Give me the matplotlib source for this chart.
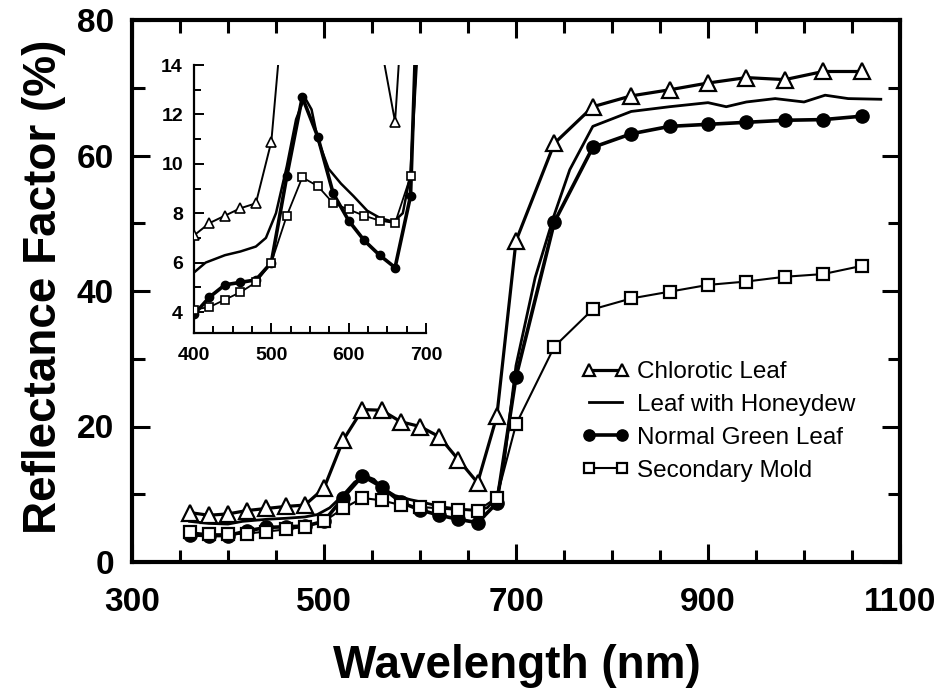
import numpy as np
import matplotlib
matplotlib.use('Agg')
import matplotlib.pyplot as plt
from matplotlib.ticker import MultipleLocator

plt.rcParams['font.family'] = ['Liberation Sans', 'DejaVu Sans']

# wavelengths of the marked series (nm)
wl = [360, 380, 400, 420, 440, 460, 480, 500, 520, 540, 560, 580, 600, 620, 640, 660, 680,
      700, 740, 780, 820, 860, 900, 940, 980, 1020, 1060]

chlorotic = [7.3, 6.9, 7.1, 7.6, 7.9, 8.2, 8.4, 10.9, 18.0, 22.5, 22.4, 20.7, 20.0, 18.5, 15.1, 11.7, 21.5,
             47.4, 61.8, 67.2, 68.8, 69.7, 70.7, 71.5, 71.2, 72.4, 72.4]
normal_green = [4.0, 3.9, 3.9, 4.6, 5.1, 5.2, 5.3, 6.0, 9.5, 12.7, 11.1, 8.8, 7.7, 6.9, 6.3, 5.8, 8.7,
                27.3, 50.2, 61.2, 63.2, 64.3, 64.6, 64.9, 65.2, 65.3, 65.8]
mold = [4.4, 4.1, 4.1, 4.2, 4.5, 4.8, 5.2, 6.0, 7.9, 9.45, 9.1, 8.4, 8.15, 7.9, 7.7, 7.6, 9.5,
        20.3, 31.8, 37.3, 38.9, 39.9, 40.9, 41.4, 42.1, 42.5, 43.7]

# leaf with honeydew: plain line, no markers
hd_wl = [360, 380, 400, 415, 440, 460, 480, 493, 506, 520, 532, 543, 552, 560, 574, 590, 606, 624, 641,
         658, 670, 680, 687, 700, 720, 740, 756, 780, 820, 860, 900, 919, 940, 970, 1000, 1022, 1046, 1080]
honeydew = [6.0, 5.7, 5.6, 6.0, 6.3, 6.45, 6.65, 7.0, 8.0, 9.9, 11.8, 12.7, 12.2, 11.0, 9.8, 9.2, 8.7, 8.1, 7.8,
            7.65, 8.0, 9.6, 14.0, 29.0, 42.0, 51.3, 57.9, 64.3, 66.5, 67.2, 67.8, 67.2, 67.9, 68.4, 67.9, 68.9, 68.4, 68.3]

fig = plt.figure(figsize=(9.4, 6.9), dpi=100)
ax = fig.add_axes([132 / 940, 1 - 562 / 690, 768 / 940, 542 / 690])

ax.plot(wl, normal_green, color='black', lw=2.6, marker='o', ms=9.5, mfc='black', mec='black',
        label='Normal Green Leaf', zorder=3)
ax.plot(hd_wl, honeydew, color='black', lw=2.0, label='Leaf with Honeydew', zorder=3)
ax.plot(wl, mold, color='black', lw=1.5, marker='s', ms=9, mfc='white', mec='black', mew=1.6,
        label='Secondary Mold', zorder=4)
ax.plot(wl, chlorotic, color='black', lw=2.3, marker='^', ms=11, mfc='white', mec='black', mew=1.6,
        label='Chlorotic Leaf', zorder=5)

ax.set_xlim(300, 1100)
ax.set_ylim(0, 80)
ax.set_xticks([300, 500, 700, 900, 1100])
ax.set_yticks([0, 20, 40, 60, 80])
ax.xaxis.set_minor_locator(MultipleLocator(50))
ax.yaxis.set_minor_locator(MultipleLocator(10))
ax.tick_params(which='both', direction='in', top=True, right=True, width=2.2, labelsize=24)
ax.tick_params(which='major', length=13)
ax.tick_params(which='minor', length=9)
ax.tick_params(axis='x', which='major', pad=18)
ax.tick_params(axis='y', which='major', pad=13)
for lab in ax.get_xticklabels() + ax.get_yticklabels():
    lab.set_fontweight('bold')
for sp in ax.spines.values():
    sp.set_linewidth(3)

ax.set_xlabel('Wavelength (nm)', fontsize=33, fontweight='bold')
ax.set_ylabel('Reflectance Factor (%)', fontsize=33, fontweight='bold')
ax.xaxis.set_label_coords(0.501, -0.152)
ax.yaxis.set_label_coords(-0.086, 0.507)

handles, labels = ax.get_legend_handles_labels()
order = [3, 1, 0, 2]
ax.legend([handles[i] for i in order], [labels[i] for i in order], loc='upper left',
          bbox_to_anchor=(582 / 940, 1 - 361 / 690), bbox_transform=fig.transFigure,
          frameon=False, fontsize=17.5, numpoints=2, handlelength=1.95, handletextpad=0.33,
          labelspacing=0.45, borderpad=0, borderaxespad=0, markerscale=0.85)

# inset: 400-700 nm close-up
ins = fig.add_axes([194 / 940, 1 - 333 / 690, 232 / 940, 268 / 690])
ins.patch.set_alpha(0)
ins.plot(wl, normal_green, color='black', lw=2.6, marker='o', ms=6, mfc='black', mec='black', zorder=3)
ins.plot(hd_wl, honeydew, color='black', lw=1.8, zorder=3)
ins.plot(wl, mold, color='black', lw=1.3, marker='s', ms=6, mfc='white', mec='black', mew=1.2, zorder=4)
ins.plot(wl, chlorotic, color='black', lw=1.4, marker='^', ms=7, mfc='white', mec='black', mew=1.2, zorder=5)
ins.set_xlim(400, 700)
ins.set_ylim(3.15, 14)
ins.set_xticks([400, 500, 600, 700])
ins.set_yticks([4, 6, 8, 10, 12, 14])
ins.xaxis.set_minor_locator(MultipleLocator(25))
ins.yaxis.set_minor_locator(MultipleLocator(1))
ins.spines['top'].set_visible(False)
ins.spines['right'].set_visible(False)
for s in ['left', 'bottom']:
    ins.spines[s].set_linewidth(1.6)
ins.tick_params(which='both', direction='in', width=1.4, labelsize=14)
ins.tick_params(which='major', length=7)
ins.tick_params(which='minor', length=5)
ins.tick_params(axis='x', which='major', pad=10)
ins.tick_params(axis='y', which='major', pad=8)
for lab in ins.get_xticklabels() + ins.get_yticklabels():
    lab.set_fontweight('bold')

fig.savefig('out.png', dpi=100)
